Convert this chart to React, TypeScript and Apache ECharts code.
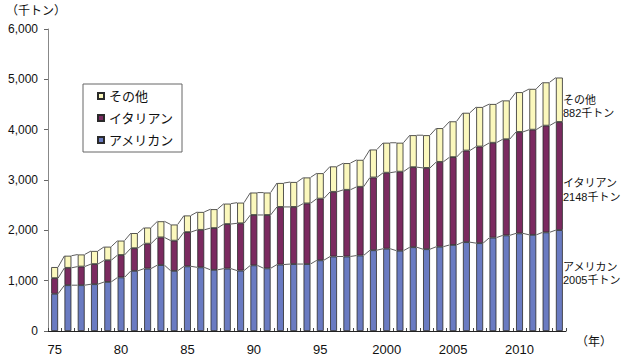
import React, { useEffect, useRef } from "react";
import * as echarts from "echarts";

// Year labels on the category axis (only every fifth one is shown)
const years = [
  "75", "76", "77", "78", "79", "80", "81", "82", "83", "84",
  "85", "86", "87", "88", "89", "90", "91", "92", "93", "94",
  "95", "96", "97", "98", "99", "2000", "2001", "2002", "2003", "2004",
  "2005", "2006", "2007", "2008", "2009", "2010", "2011", "2012", "2013",
];

// Thousand tonnes per year
const american = [
  740, 910, 910, 930, 975, 1065, 1195, 1240, 1310, 1195,
  1285, 1265, 1215, 1240, 1200, 1305, 1245, 1320, 1330, 1330,
  1405, 1480, 1480, 1500, 1605, 1635, 1595, 1665, 1625, 1675,
  1710, 1765, 1745, 1855, 1900, 1940, 1910, 1960, 2005,
];
const italian = [
  310, 345, 370, 400, 430, 445, 450, 495, 550, 600,
  680, 745, 830, 885, 940, 1000, 1060, 1145, 1135, 1205,
  1225, 1285, 1325, 1365, 1445, 1510, 1570, 1590, 1615, 1685,
  1745, 1820, 1920, 1885, 1910, 2015, 2090, 2120, 2148,
];
const others = [
  220, 240, 240, 260, 270, 285, 300, 320, 320, 320,
  330, 355, 375, 405, 410, 445, 445, 475, 495, 515,
  505, 505, 530, 535, 555, 595, 575, 635, 650, 670,
  710, 750, 785, 770, 770, 790, 810, 860, 882,
];

const yTicks = [0, 1000, 2000, 3000, 4000, 5000, 6000];

const NAME_AM = "アメリカン";
const NAME_IT = "イタリアン";
const NAME_OT = "その他";

const COLOR_AM = "#6a7bc2";
const COLOR_IT = "#7b2a60";
const COLOR_OT = "#fbf8bd";

const FONT = "'Liberation Sans', 'Noto Sans CJK JP', sans-serif";
const BAR_RATIO = 0.52;

export default function App() {
  const ref = useRef<HTMLDivElement>(null);

  useEffect(() => {
    if (!ref.current) return;
    const chart = echarts.init(ref.current, undefined, { renderer: "svg" });

    // cumulative tops of each stacked layer, used for the connector lines
    const lvl1 = american.slice();
    const lvl2 = american.map((v, i) => v + italian[i]);
    const lvl3 = lvl2.map((v, i) => v + others[i]);
    const connectors: number[][] = [];
    [lvl1, lvl2, lvl3].forEach((lvl) => {
      for (let i = 0; i < lvl.length - 1; i++) connectors.push([i, lvl[i], lvl[i + 1]]);
    });

    const last = years.length - 1;
    const rightLabels = [
      { name: NAME_OT, value: others[last], y: 106.5 },
      { name: NAME_IT, value: italian[last], y: 190 },
      { name: NAME_AM, value: american[last], y: 273.5 },
    ];

    const barStyle = (color: string) => ({
      color,
      borderColor: "#2a2a2a",
      borderWidth: 0.8,
    });

    chart.setOption({
      animation: false,
      textStyle: { fontFamily: FONT },
      grid: { left: 48, right: 56, top: 29, bottom: 27 },
      legend: {
        orient: "vertical",
        left: 83,
        top: 84,
        width: 99,
        data: [NAME_OT, NAME_IT, NAME_AM],
        icon: "rect",
        itemWidth: 6,
        itemHeight: 6,
        itemGap: 8,
        padding: [5, 8, 5, 14],
        borderColor: "#666",
        borderWidth: 1,
        backgroundColor: "#fff",
        textStyle: { fontSize: 13, color: "#111", lineHeight: 14, fontFamily: FONT },
        selectedMode: false,
      },
      xAxis: {
        type: "category",
        data: years,
        axisLine: { lineStyle: { color: "#222", width: 1 } },
        axisTick: { show: true, inside: true, length: 3, interval: 0, lineStyle: { color: "#444" } },
        axisLabel: { interval: 4, fontSize: 13, color: "#111", margin: 12 },
      },
      yAxis: {
        type: "value",
        min: yTicks[0],
        max: yTicks[yTicks.length - 1],
        interval: 1000,
        axisLine: { show: true, lineStyle: { color: "#888", width: 1 } },
        axisTick: { show: true, inside: false, length: 4, lineStyle: { color: "#666" } },
        splitLine: { show: false },
        axisLabel: {
          fontSize: 12,
          color: "#111",
          margin: 10,
          formatter: (v: number) => v.toLocaleString("en-US"),
        },
      },
      series: [
        {
          name: NAME_AM,
          type: "bar",
          stack: "total",
          data: american,
          barWidth: BAR_RATIO * 100 + "%",
          itemStyle: barStyle(COLOR_AM),
        },
        {
          name: NAME_IT,
          type: "bar",
          stack: "total",
          data: italian,
          itemStyle: barStyle(COLOR_IT),
        },
        {
          name: NAME_OT,
          type: "bar",
          stack: "total",
          data: others,
          itemStyle: barStyle(COLOR_OT),
        },
        {
          name: "connectors",
          type: "custom",
          z: 5,
          silent: true,
          data: connectors,
          encode: { x: 0, y: 1 },
          renderItem: (_p: any, api: any) => {
            const i = api.value(0);
            const a = api.coord([i, api.value(1)]);
            const b = api.coord([i + 1, api.value(2)]);
            const hw = (api.size([1, 0])[0] * BAR_RATIO) / 2;
            return {
              type: "line",
              shape: { x1: a[0] + hw, y1: a[1], x2: b[0] - hw, y2: b[1] },
              style: { stroke: "#333", lineWidth: 0.8 },
            };
          },
        },
      ],
      graphic: [
        {
          type: "text",
          left: 6,
          top: 5,
          style: { text: "（千トン）", fontSize: 12, fill: "#111", fontFamily: FONT },
        },
        {
          type: "text",
          x: 594,
          y: 342,
          style: {
            text: "（年）",
            fontSize: 12,
            fill: "#111",
            fontFamily: FONT,
            align: "center",
            verticalAlign: "middle",
          },
        },
        ...rightLabels.map((l) => ({
          type: "text",
          x: 563,
          y: l.y,
          style: {
            text: `${l.name}\n${l.value}千トン`,
            fontSize: 11,
            lineHeight: 13.5,
            fill: "#111",
            fontFamily: FONT,
            align: "left",
            verticalAlign: "middle",
          },
        })),
      ],
    });

    return () => chart.dispose();
  }, []);

  return (
    <div
      ref={ref}
      style={{ position: "fixed", left: 0, top: 0, width: 622, height: 358, background: "#fff" }}
    />
  );
}
